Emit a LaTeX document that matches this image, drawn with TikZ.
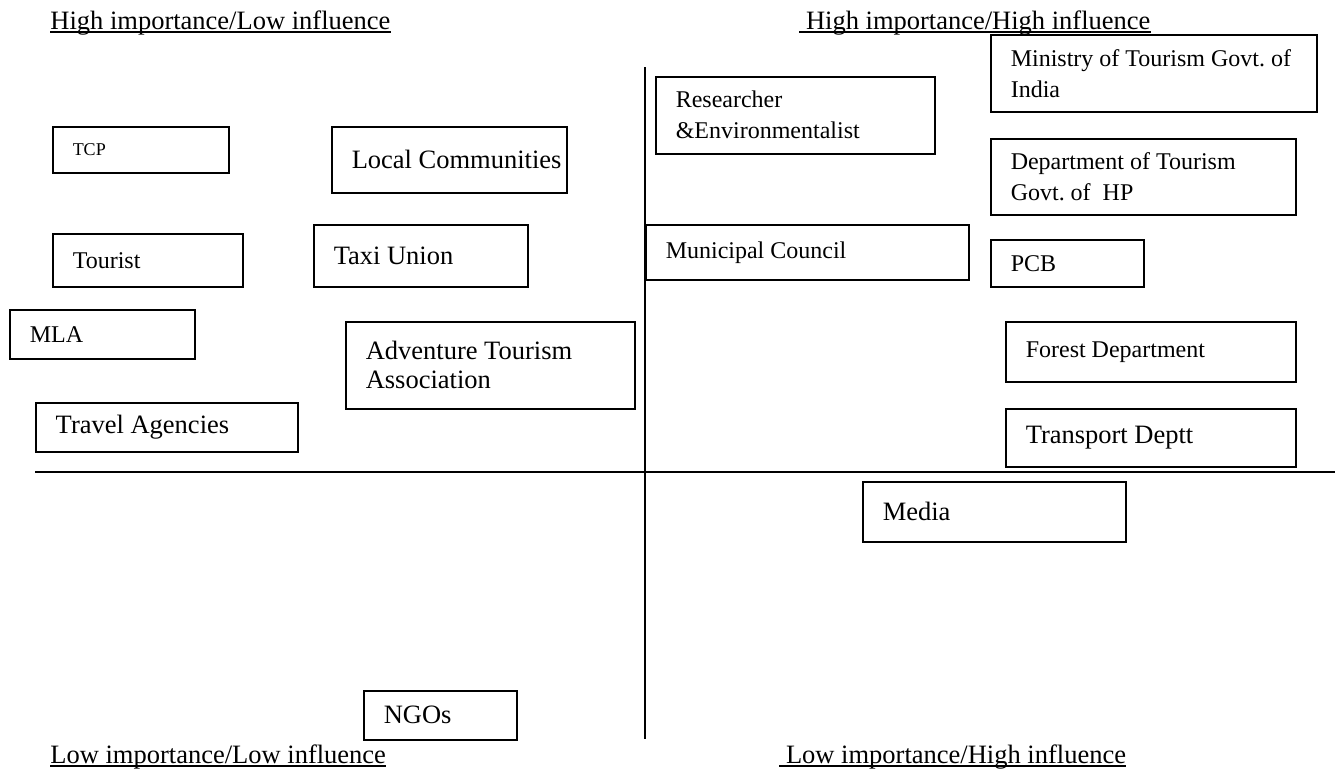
\documentclass[tikz,border=0pt]{standalone}
\usepackage{fontspec}
\setmainfont{Liberation Serif}
\frenchspacing
\begin{document}
\begin{tikzpicture}[x=0.5pt, y=-0.5pt,
		stake/.style 2 args={draw, line width=0.75pt, anchor=north west, inner xsep=0pt, inner ysep=0pt,
			text width=#1*0.5pt, minimum height=#2*0.5pt, align=flush left,
			execute at begin node={\leftskip=10pt\rightskip=0pt plus 1fil\relax}},
		big/.style={font=\fontsize{13.25}{14.5}\selectfont},
		med/.style={font=\fontsize{12}{15.5}\selectfont},
		sml/.style={font=\fontsize{9}{11}\selectfont},
		head/.style={font=\fontsize{13.25}{15}\selectfont, anchor=base west, inner sep=0pt},
		uline/.style={line width=0.7pt},
		axis/.style={line width=1pt}]
	\useasboundingbox (0,0) rectangle (1335,768);
	% the two axes split the page into the four quadrants
	\coordinate (vtop) at (645,67);
	\coordinate (vbot) at (645,739);
	\coordinate (hleft) at (35,472);
	\coordinate (hright) at (1335,472);
	\draw[axis] (vtop) -- (vbot);
	\draw[axis] (hleft) -- (hright);
	% quadrant headings, underlined
	\node[head] (hl) at (50,29) {High importance/Low influence\ };
	\node[head] (hh) at (799,29) {\ High importance/High influence};
	\node[head] (ll) at (50,763) {Low importance/Low influence\ };
	\node[head] (lh) at (779,763) {\ Low importance/High influence};
	\foreach \h in {hl,hh,ll,lh}
		\draw[uline] ([yshift=-1.5pt]\h.base west) -- ([yshift=-1.5pt]\h.base east);
	% high importance / low influence
	\node[stake={176}{46}, sml] (tcp) at (52,126) {TCP};
	\node[stake={235}{66}, big] (loc) at (331,126) {Local Communities};
	\node[stake={190}{53}, med] (tour) at (52,233) {Tourist};
	\node[stake={214}{62}, big] (taxi) at (313,224) {Taxi Union};
	\node[stake={185}{49}, med] (mla) at (9,309) {MLA};
	\node[stake={289}{87}, big] (adv) at (345,321) {Adventure Tourism\\Association};
	\node[stake={262}{49}, big] (trav) at (35,402) {Travel Agencies};
	% high importance / high influence
	\node[stake={279}{77}, med] (res) at (655,76) {Researcher\\\&Environmentalist};
	\node[stake={326}{77}, med] (mot) at (990,34) {Ministry of Tourism Govt. of\\India};
	\node[stake={305}{76}, med] (dot) at (990,138) {Department of Tourism\\Govt. of\ \ HP};
	\node[stake={323}{55}, med] (mc) at (645,224) {Municipal Council};
	\node[stake={153}{47}, med] (pcb) at (990,239) {PCB};
	\node[stake={290}{60}, med] (fd) at (1005,321) {Forest Department};
	\node[stake={290}{58}, big] (td) at (1005,408) {Transport Deptt};
	% low importance
	\node[stake={263}{60}, big] (med) at (862,481) {Media};
	\node[stake={153}{49}, big] (ngo) at (363,690) {NGOs};
\end{tikzpicture}
\end{document}
